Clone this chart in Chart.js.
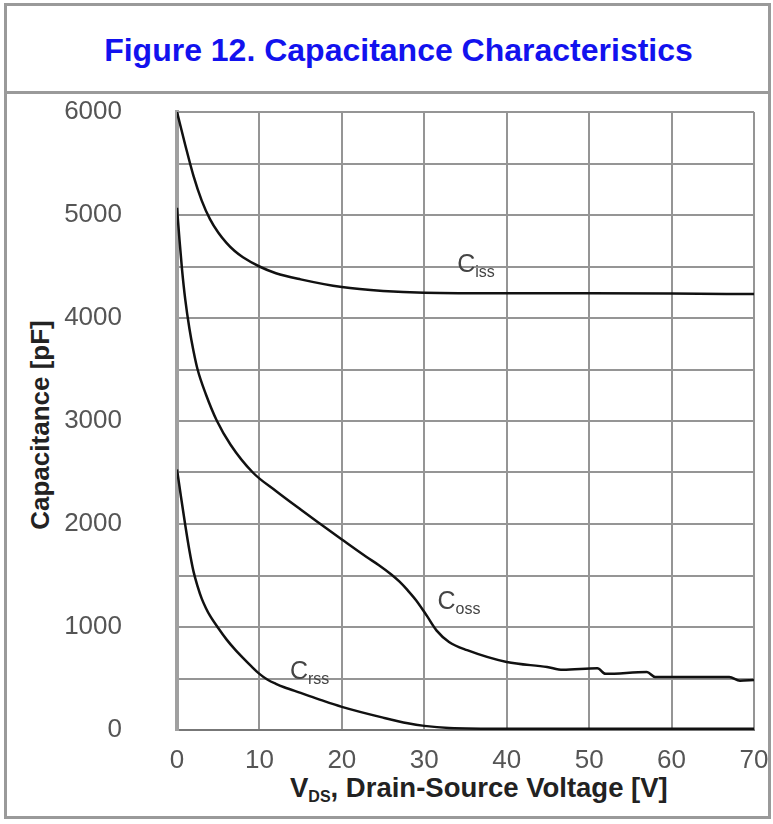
<!DOCTYPE html>
<html>
<head>
<meta charset="utf-8">
<script src="https://cdn.jsdelivr.net/npm/chart.js@4.4.1/dist/chart.umd.min.js"></script>
<style>
  html, body { margin: 0; padding: 0; background: #fff; }
  body { width: 773px; height: 824px; position: relative; overflow: hidden; font-family: "Liberation Sans", Arial, sans-serif; }
  #frame { position: absolute; left: 4px; top: 3px; width: 767px; height: 816px; border: 3px solid #9a9a9a; box-sizing: border-box; }
  #sep { position: absolute; left: 4px; top: 91px; width: 767px; height: 3px; background: #9a9a9a; }
  #title { position: absolute; left: 0; width: 797px; top: 30px; text-align: center; color: #1212ee; font-weight: bold; font-size: 32px; line-height: 40px; }
  #ytitle { position: absolute; left: 40px; top: 425px; transform: translate(-50%, -50%) rotate(-90deg); white-space: nowrap; font-weight: bold; font-size: 26px; line-height: 26px; color: #222; }
  #xtitle { position: absolute; left: 290px; top: 773px; white-space: nowrap; font-weight: bold; font-size: 27.5px; line-height: 30px; color: #222; }
  #xtitle sub { font-size: 16px; vertical-align: -5px; }
  #wrap { position: absolute; left: 0; top: 0; width: 773px; height: 824px; }
</style>
</head>
<body>
<div id="frame"></div>
<div id="sep"></div>
<div id="title">Figure 12. Capacitance Characteristics</div>
<div id="ytitle">Capacitance [pF]</div>
<div id="xtitle">V<sub>DS</sub>, Drain-Source Voltage [V]</div>
<div id="wrap"><canvas id="capChart"></canvas></div>
<script>
// (V in volts, C in pF)
const cissV = [0, 1, 2, 3, 4, 5, 6, 7, 8, 10, 12, 15, 20, 25, 30, 40, 50, 60, 70];
const cissC = [6000, 5680, 5380, 5140, 4960, 4830, 4730, 4650, 4590, 4500, 4435, 4375, 4300, 4262, 4245, 4240, 4240, 4238, 4232];

const cossV = [0, 0.3, 0.6, 1, 1.5, 2, 2.5, 3.5, 4.85, 6.5, 9.2, 12, 15, 17.4, 20, 23, 24.5, 26, 27, 28, 29, 30.3, 31.5, 33, 35.2, 40, 44.9, 46.8, 51, 52, 57, 58, 62.3, 67, 68.3, 70];
const cossC = [5070, 4760, 4480, 4180, 3900, 3680, 3500, 3260, 3000, 2770, 2500, 2320, 2140, 2000, 1850, 1680, 1600, 1510, 1440, 1355, 1260, 1110, 965, 855, 775, 660, 612, 585, 600, 545, 563, 515, 515, 515, 478, 485];

const crssV = [0, 0.5, 1, 1.5, 2, 2.5, 3, 3.5, 4, 5, 6, 7, 8, 9, 10, 11, 12, 13, 15, 17.5, 20, 25, 28, 30, 33, 40, 50, 60, 70];
const crssC = [2530, 2255, 1990, 1745, 1540, 1395, 1275, 1185, 1110, 990, 880, 785, 700, 620, 545, 488, 448, 415, 360, 290, 225, 120, 65, 40, 20, 12, 12, 12, 12];

const xTicks = [0, 10, 20, 30, 40, 50, 60, 70];
const yTicks = [0, 1000, 2000, 3000, 4000, 5000, 6000];

// curve names placed in data units
const curveLabels = [
  { v: 34.0, c: 4545, sub: 'iss' },
  { v: 31.6, c: 1272, sub: 'oss' },
  { v: 13.7, c: 592, sub: 'rss' }
];

function toPoints(xs, ys) {
  return xs.map((x, i) => ({ x: x, y: ys[i] }));
}

const labelPlugin = {
  id: 'curveLabels',
  afterDatasetsDraw(chart) {
    const ctx = chart.ctx;
    const xs = chart.scales.x, ys = chart.scales.y;
    ctx.save();
    ctx.fillStyle = '#444';
    ctx.textBaseline = 'alphabetic';
    curveLabels.forEach(l => {
      const px = xs.getPixelForValue(l.v);
      const py = ys.getPixelForValue(l.c);
      ctx.font = '25px "Liberation Sans", Arial, sans-serif';
      ctx.fillText('C', px, py + 10);
      const w = ctx.measureText('C').width;
      ctx.font = '16px "Liberation Sans", Arial, sans-serif';
      ctx.fillText(l.sub, px + w, py + 15);
    });
    ctx.restore();
  }
};

function series(xs, ys) {
  return {
    data: toPoints(xs, ys),
    borderColor: '#111',
    borderWidth: 2.5,
    pointRadius: 0,
    cubicInterpolationMode: 'monotone',
    fill: false
  };
}

const ctx = document.getElementById('capChart').getContext('2d');
const chart = new Chart(ctx, {
  type: 'line',
  data: {
    datasets: [series(cissV, cissC), series(cossV, cossC), series(crssV, crssC)]
  },
  options: {
    responsive: true,
    maintainAspectRatio: false,
    animation: false,
    layout: { padding: { left: 0, top: 112, right: 19, bottom: 0 } },
    plugins: { legend: { display: false }, tooltip: { enabled: false } },
    scales: {
      x: {
        type: 'linear',
        min: 0,
        max: 70,
        afterFit: function(scale) {
          scale.height = 94;
          scale.paddingLeft = 0;
          scale.paddingRight = 0;
        },
        afterBuildTicks: function(scale) { scale.ticks = xTicks.map(v => ({ value: v })); },
        grid: { color: '#959595', lineWidth: 2, drawTicks: false },
        border: { color: '#777', width: 2 },
        ticks: { padding: 15, color: '#555', font: { size: 26, family: '"Liberation Sans", Arial, sans-serif' } }
      },
      y: {
        min: 0,
        max: 6000,
        afterFit: function(scale) {
          scale.width = 177;
          scale.paddingTop = 0;
          scale.paddingBottom = 0;
        },
        ticks: {
          stepSize: 500,
          autoSkip: false,
          padding: 55,
          color: '#555',
          font: { size: 26, family: '"Liberation Sans", Arial, sans-serif' },
          callback: function(value) { return yTicks.includes(value) ? value : ''; }
        },
        grid: { color: '#959595', lineWidth: 2, drawTicks: false },
        border: { color: '#a0a0a0', width: 4 }
      }
    }
  },
  plugins: [labelPlugin]
});
</script>
</body>
</html>
